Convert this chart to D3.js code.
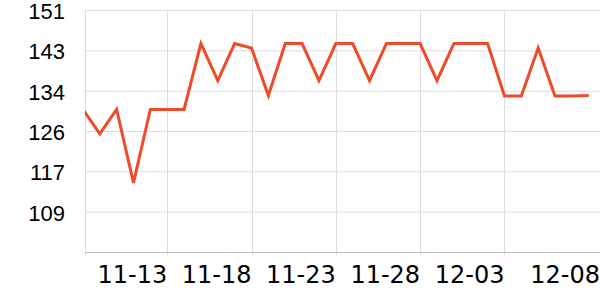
<!DOCTYPE html>
<html>
<head>
<meta charset="utf-8">
<script src="https://cdn.jsdelivr.net/npm/d3@7"></script>
<style>
    body { margin: 0; background: #fff; }
    svg { display: block; font-family: "DejaVu Sans", sans-serif; }
</style>
</head>
<body>
<div id="chartArea"></div>
<script>
// Data (one point per day)
let dates = [
    '2023-11-08', '2023-11-09', '2023-11-10', '2023-11-11', '2023-11-12', '2023-11-13',
    '2023-11-14', '2023-11-15', '2023-11-16', '2023-11-17', '2023-11-18', '2023-11-19',
    '2023-11-20', '2023-11-21', '2023-11-22', '2023-11-23', '2023-11-24', '2023-11-25',
    '2023-11-26', '2023-11-27', '2023-11-28', '2023-11-29', '2023-11-30', '2023-12-01',
    '2023-12-02', '2023-12-03', '2023-12-04', '2023-12-05', '2023-12-06', '2023-12-07',
    '2023-12-08'
];
let values = [
    130.3, 125.2, 130.3, 115.0, 130.3, 130.3,
    130.3, 144.0, 136.3, 144.0, 143.1, 133.2,
    144.0, 144.0, 136.3, 144.0, 144.0, 136.3,
    144.0, 144.0, 144.0, 136.3, 144.0, 144.0,
    144.0, 133.1, 133.1, 143.1, 133.1, 133.1,
    133.2
];

// Axis settings
let xDomain = ['2023-11-08T03:00', '2023-12-08T16:00'];
let xGridDates = ['2023-11-13', '2023-11-18', '2023-11-23', '2023-11-28', '2023-12-03'];
let xTickLabels = ['11-13', '11-18', '11-23', '11-28', '12-03', '12-08'];
let yDomain = [100.6, 151.0];
let yTicks = [109.0, 117.4, 125.8, 134.2, 142.6, 151.0];

function drawGraph() {

    let margins = {
        top: 10,
        right: 0,
        bottom: 48,
        left: 85
    };

    let svgWidth = 600 - margins.left - margins.right,
        svgHeight = 300 - margins.top - margins.bottom;

    let parseDay = d3.timeParse('%Y-%m-%d');
    let parseTime = d3.timeParse('%Y-%m-%dT%H:%M');

    let svg = d3.select('#chartArea')
        .append('svg')
        .attr('width', 600)
        .attr('height', 300);

    let chart = svg.append('g')
        .attr('transform', 'translate(' + margins.left + ',' + margins.top + ')');

    let xScale = d3.scaleTime()
        .domain(xDomain.map(parseTime))
        .range([0, svgWidth]);

    let yScale = d3.scaleLinear()
        .domain(yDomain)
        .range([svgHeight, 0]);

    // Horizontal grid + y labels
    let yAxis = chart.append('g')
        .attr('class', 'y axis')
        .call(
        d3.axisLeft(yScale)
            .tickValues(yTicks)
            .tickSize(-svgWidth)
            .tickPadding(20)
            .tickFormat(d3.format('.0f'))
        );
    yAxis.select('.domain').remove();
    yAxis.selectAll('line').attr('stroke', '#dcdcdc');
    yAxis.selectAll('text')
        .attr('fill', '#000')
        .attr('dy', '0.38em')
        .style('font-size', '22px');

    // Vertical grid lines (left edge + date ticks)
    chart.selectAll('.vgrid')
        .data([xScale.invert(0)].concat(xGridDates.map(parseDay)))
        .enter().append('line')
        .attr('class', 'vgrid')
        .attr('x1', d => Math.round(xScale(d)) + 0.5)
        .attr('x2', d => Math.round(xScale(d)) + 0.5)
        .attr('y1', 0)
        .attr('y2', svgHeight + 3)
        .attr('stroke', '#dcdcdc');

    // Bottom axis line
    chart.append('line')
        .attr('x1', 0)
        .attr('x2', svgWidth)
        .attr('y1', svgHeight + 0.5)
        .attr('y2', svgHeight + 0.5)
        .attr('stroke', '#bdbdbd');

    // X labels, right aligned to their tick; the last one sits at the right edge
    chart.selectAll('.xlabel')
        .data(xTickLabels)
        .enter().append('text')
        .attr('class', 'xlabel')
        .attr('x', (d, i) => i < xGridDates.length ? xScale(parseDay(xGridDates[i])) : svgWidth)
        .attr('y', svgHeight + 31)
        .attr('text-anchor', 'end')
        .style('font-size', '24px')
        .attr('fill', '#000')
        .text(d => d);

    chart.append('clipPath')
        .attr('id', 'plotClip')
        .append('rect')
        .attr('x', 0)
        .attr('y', -5)
        .attr('width', svgWidth)
        .attr('height', svgHeight + 5);

    let line = d3.line()
        .x((d, i) => xScale(parseDay(dates[i])))
        .y(d => yScale(d));

    chart.append('path')
        .attr('class', 'line')
        .attr('clip-path', 'url(#plotClip)')
        .attr('d', line(values))
        .attr('fill', 'none')
        .attr('stroke', '#ee4b2b')
        .attr('stroke-width', 3)
        .attr('stroke-linejoin', 'miter');
}

drawGraph();
</script>
</body>
</html>
